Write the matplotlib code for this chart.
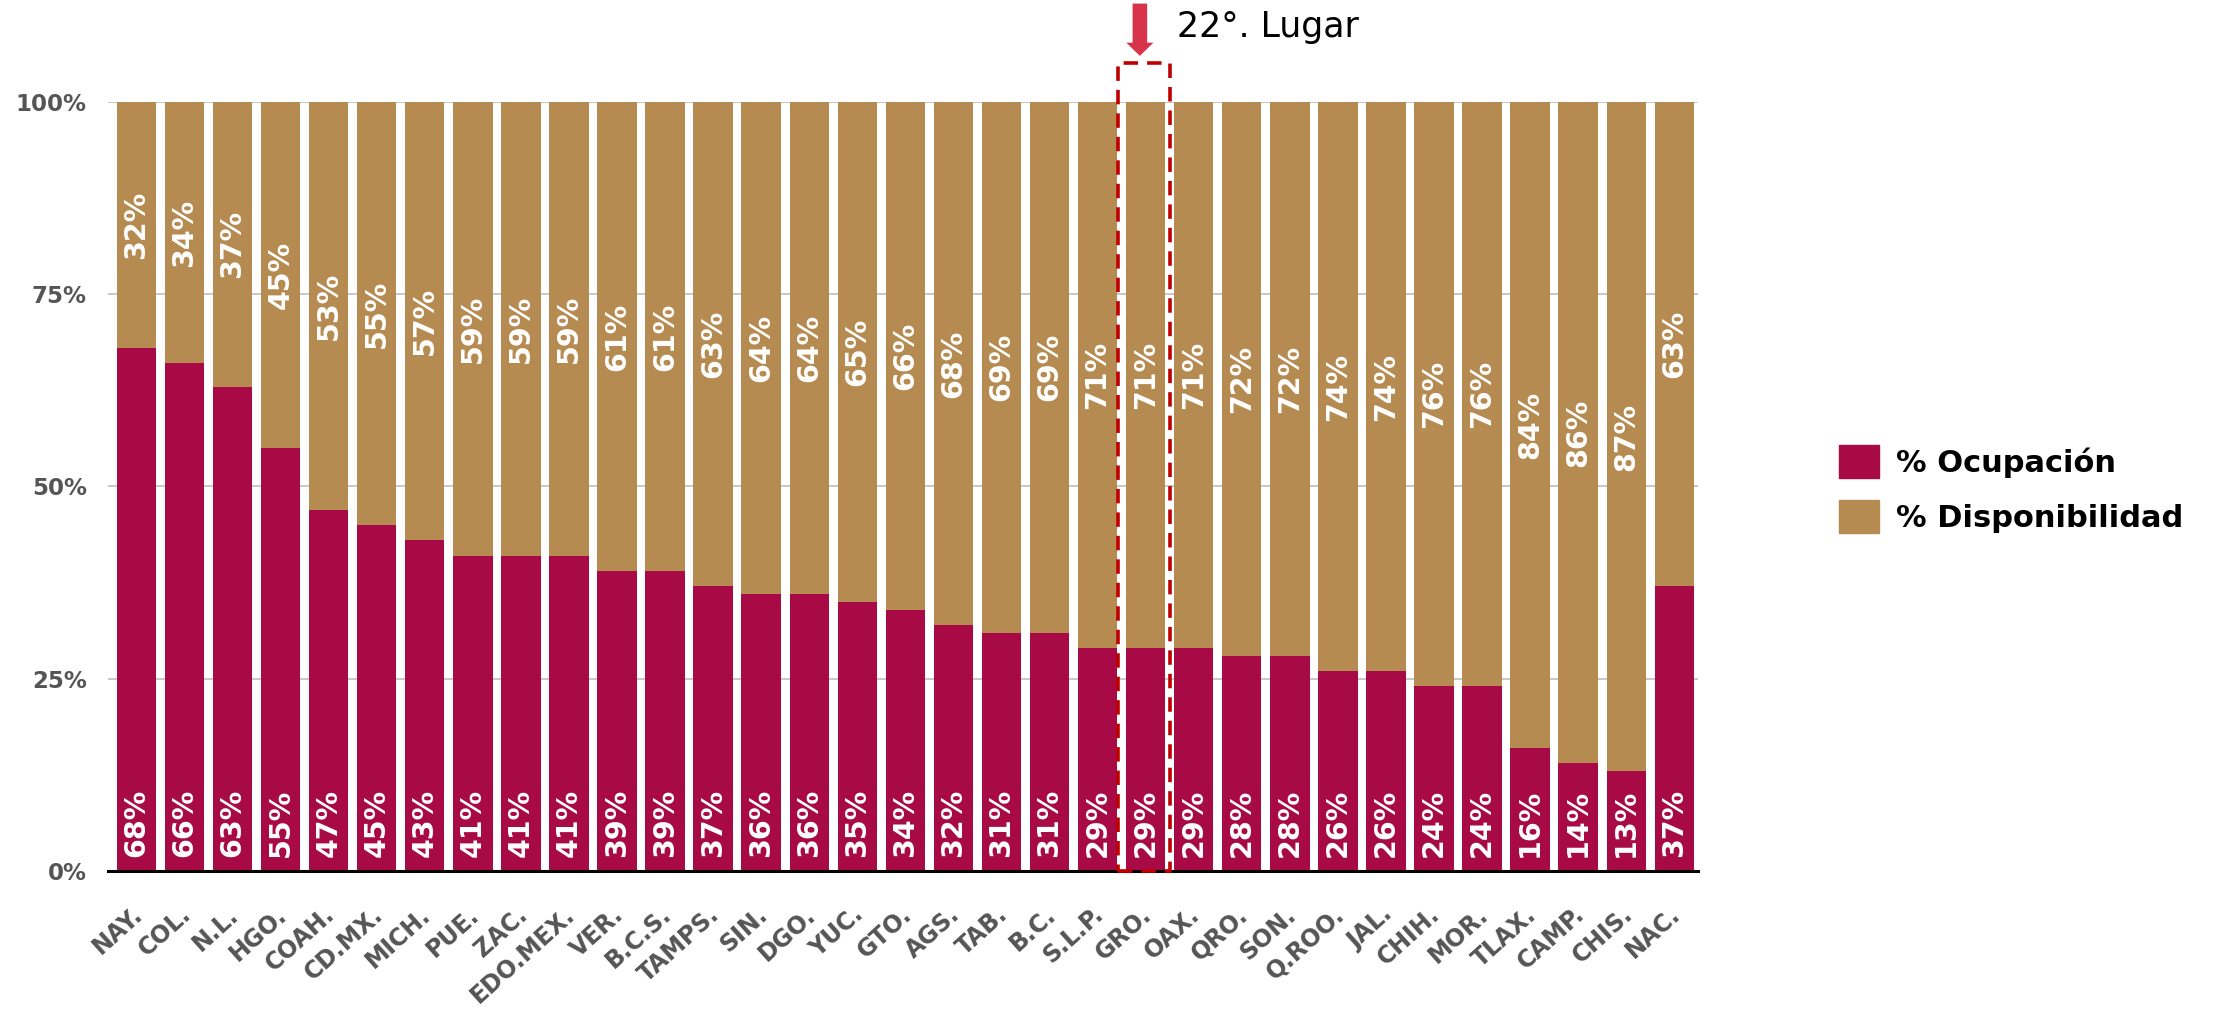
#! /usr/bin/python3
import matplotlib as mpl
mpl.use('agg')

import matplotlib.pyplot as plt
import matplotlib.transforms as mtransforms
from matplotlib.patches import Rectangle

## data
estados = ["NAY.", "COL.", "N.L.", "HGO.", "COAH.", "CD.MX.", "MICH.", "PUE.", "ZAC.",
           "EDO.MEX.", "VER.", "B.C.S.", "TAMPS.", "SIN.", "DGO.", "YUC.", "GTO.", "AGS.",
           "TAB.", "B.C.", "S.L.P.", "GRO.", "OAX.", "QRO.", "SON.", "Q.ROO.", "JAL.",
           "CHIH.", "MOR.", "TLAX.", "CAMP.", "CHIS.", "NAC."]
ocupacion = [68, 66, 63, 55, 47, 45, 43, 41, 41, 41, 39, 39, 37, 36, 36, 35, 34, 32,
             31, 31, 29, 29, 29, 28, 28, 26, 26, 24, 24, 16, 14, 13, 37]
disponibilidad = [32, 34, 37, 45, 53, 55, 57, 59, 59, 59, 61, 61, 63, 64, 64, 65, 66, 68,
                  69, 69, 71, 71, 71, 72, 72, 74, 74, 76, 76, 84, 86, 87, 63]
yticks = [0, 25, 50, 75, 100]
resaltado = "GRO."
lugar = "22°. Lugar"

ROJO = '#A80A45'
DORADO = '#B58B51'
GRIS = '#555555'


def main():
    fig = plt.figure(figsize=(22.18, 10.11), dpi=100)
    ax = fig.add_axes([0.0485, 0.1385, 0.7172, 0.7606])

    x = list(range(len(estados)))
    ax.bar(x, ocupacion, width=0.82, color=ROJO, zorder=2)
    ax.bar(x, disponibilidad, width=0.82, bottom=ocupacion, color=DORADO, zorder=2)

    # labels inside the bars
    for i in x:
        ax.annotate(f"{ocupacion[i]}%", (i, 0), xytext=(0, 10), textcoords='offset points',
                    rotation=90, ha='center', va='bottom', color='white',
                    fontsize=20.5, fontweight='bold', zorder=3)
        ax.text(i, ocupacion[i] + disponibilidad[i] / 2, f"{disponibilidad[i]}%",
                rotation=90, ha='center', va='center', color='white',
                fontsize=20.5, fontweight='bold', zorder=3)

    # axes
    ax.set_xlim(-0.6, 32.5)
    ax.set_ylim(0, 100)
    ax.set_yticks(yticks)
    ax.set_yticklabels([f"{t}%" for t in yticks], fontsize=16.5, fontweight='bold', color=GRIS)
    ax.yaxis.grid(True, color='#BFBFBF', linewidth=1.2, zorder=0)
    ax.set_axisbelow(True)
    for s in ['top', 'right', 'left']:
        ax.spines[s].set_visible(False)
    ax.spines['bottom'].set_color('black')
    ax.spines['bottom'].set_linewidth(2.2)
    ax.spines['bottom'].set_zorder(4)
    ax.tick_params(axis='y', length=0, pad=15)
    ax.tick_params(axis='x', length=0, pad=0)

    ax.set_xticks(x)
    ax.set_xticklabels(estados, rotation=42, ha='right', va='center',
                       rotation_mode='anchor', fontsize=17, fontweight='bold', color=GRIS)
    offset = mtransforms.ScaledTranslation(2 / 72, -29 / 72, fig.dpi_scale_trans)
    for lbl in ax.get_xticklabels():
        lbl.set_transform(lbl.get_transform() + offset)

    # highlighted state
    k = estados.index(resaltado)
    box = Rectangle((k - 0.57, 0), 1.08, 105.1, fill=False, edgecolor='#C00000',
                    linewidth=2.6, linestyle=(0, (4, 2.5)), clip_on=False, zorder=5)
    ax.add_patch(box)
    ax.annotate('', xy=(k - 0.12, 106.0), xytext=(k - 0.12, 112.8),
                arrowprops=dict(arrowstyle='simple,head_length=0.95,head_width=1.95,tail_width=1.05',
                                color='#D7334A', linewidth=0, mutation_scale=10,
                                shrinkA=0, shrinkB=0),
                annotation_clip=False)
    ax.text(k + 0.66, 109.7, lugar, ha='left', va='center', fontsize=25, color='black')

    # legend
    handles = [Rectangle((0, 0), 1, 1, color=ROJO), Rectangle((0, 0), 1, 1, color=DORADO)]
    fig.legend(handles, ["% Ocupación", "% Disponibilidad"], loc='center left',
               bbox_to_anchor=(1839 / 2218, 1 - 489 / 1011), frameon=False,
               prop={'size': 22, 'weight': 'bold'}, handlelength=1.3, handleheight=1.3,
               handletextpad=0.55, labelspacing=0.7, borderpad=0, borderaxespad=0)

    fig.savefig('out.png', dpi=100)


if __name__ == "__main__":
    main()
